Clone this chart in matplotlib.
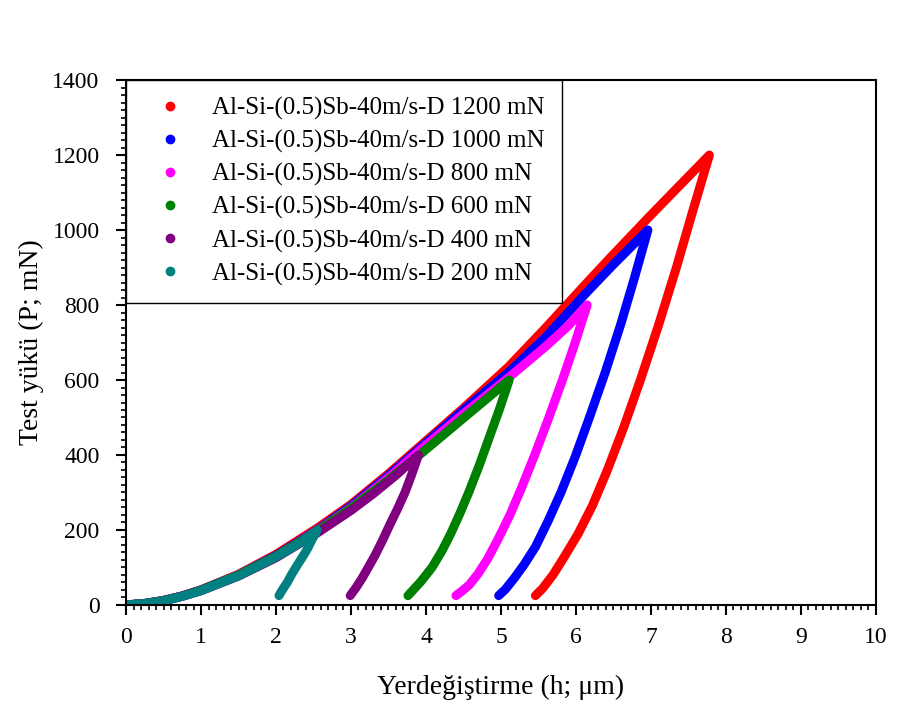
import matplotlib
matplotlib.use("Agg")
import matplotlib.pyplot as plt
from matplotlib.lines import Line2D
from matplotlib.ticker import MultipleLocator

plt.rcParams["font.family"] = ["Liberation Serif", "DejaVu Serif"]

# -----------------------------
# Data: displacement h (um), load P (mN)
# -----------------------------
labels = [
    "Al-Si-(0.5)Sb-40m/s-D 1200 mN",
    "Al-Si-(0.5)Sb-40m/s-D 1000 mN",
    "Al-Si-(0.5)Sb-40m/s-D 800 mN",
    "Al-Si-(0.5)Sb-40m/s-D 600 mN",
    "Al-Si-(0.5)Sb-40m/s-D 400 mN",
    "Al-Si-(0.5)Sb-40m/s-D 200 mN",
]
colors = ["#FF0000", "#0000FF", "#FF00FF", "#008000", "#800080", "#008080"]

# loading branches
h_load_1200 = [0, 0.25, 0.5, 0.75, 1.0, 1.5, 2.0, 2.55, 3.0, 3.5, 3.9, 4.5, 5.1, 5.6, 6.15, 6.5, 7.0, 7.4, 7.78]
p_load_1200 = [0, 4, 12, 24, 40, 82, 135, 205, 268, 350, 420, 525, 635, 740, 860, 935, 1040, 1122, 1200]
h_load_1000 = [0, 0.25, 0.5, 0.75, 1.0, 1.5, 2.0, 2.55, 3.0, 3.5, 3.9, 4.5, 5.1, 5.6, 6.15, 6.5, 6.96]
p_load_1000 = [0, 4, 12, 24, 40, 80, 132, 200, 264, 345, 415, 520, 620, 715, 835, 908, 1000]
h_load_800 = [0, 0.25, 0.5, 0.75, 1.0, 1.5, 2.0, 2.55, 3.0, 3.5, 3.9, 4.5, 5.1, 5.6, 5.9, 6.15]
p_load_800 = [0, 4, 12, 24, 40, 80, 130, 198, 260, 340, 410, 510, 606, 690, 745, 800]
h_load_600 = [0, 0.25, 0.5, 0.75, 1.0, 1.5, 2.0, 2.55, 3.0, 3.5, 3.96, 4.54, 5.11]
p_load_600 = [0, 4, 12, 24, 40, 80, 130, 197, 258, 334, 408, 505, 600]
h_load_400 = [0, 0.25, 0.5, 0.75, 1.0, 1.5, 2.0, 2.55, 3.0, 3.3, 3.6, 3.9]
p_load_400 = [0, 4, 11, 23, 38, 77, 126, 192, 252, 297, 346, 400]
h_load_200 = [0, 0.25, 0.5, 0.75, 1.0, 1.5, 2.0, 2.3, 2.55]
p_load_200 = [0, 4, 11, 23, 38, 78, 128, 163, 200]

# unloading branches
h_unl_1200 = [7.78, 7.55, 7.34, 7.10, 6.86, 6.64, 6.42, 6.22, 6.03, 5.85, 5.70, 5.56, 5.46]
p_unl_1200 = [1200, 1045, 900, 745, 600, 475, 360, 265, 190, 130, 82, 45, 25]
h_unl_1000 = [6.96, 6.78, 6.60, 6.39, 6.18, 5.99, 5.80, 5.62, 5.46, 5.31, 5.18, 5.06, 4.97]
p_unl_1000 = [1000, 872, 750, 620, 500, 395, 300, 220, 155, 108, 72, 42, 25]
h_unl_800 = [6.15, 5.99, 5.82, 5.63, 5.45, 5.28, 5.12, 4.96, 4.82, 4.69, 4.58, 4.48, 4.40]
p_unl_800 = [800, 700, 600, 495, 400, 315, 240, 175, 122, 82, 54, 37, 25]
h_unl_600 = [5.11, 4.98, 4.85, 4.71, 4.57, 4.45, 4.33, 4.21, 4.08, 3.93, 3.76]
p_unl_600 = [600, 522, 450, 372, 300, 243, 190, 143, 100, 62, 25]
h_unl_400 = [3.90, 3.81, 3.72, 3.62, 3.52, 3.42, 3.32, 3.23, 3.15, 3.07, 2.99]
p_unl_400 = [400, 348, 300, 256, 215, 172, 132, 100, 72, 47, 25]
h_unl_200 = [2.55, 2.48, 2.42, 2.35, 2.28, 2.21, 2.15, 2.09, 2.04]
p_unl_200 = [200, 174, 150, 127, 105, 82, 60, 42, 25]

curves = [
    (h_load_1200, p_load_1200, h_unl_1200, p_unl_1200),
    (h_load_1000, p_load_1000, h_unl_1000, p_unl_1000),
    (h_load_800, p_load_800, h_unl_800, p_unl_800),
    (h_load_600, p_load_600, h_unl_600, p_unl_600),
    (h_load_400, p_load_400, h_unl_400, p_unl_400),
    (h_load_200, p_load_200, h_unl_200, p_unl_200),
]

# -----------------------------
# Plot
# -----------------------------
fig = plt.figure(figsize=(9.2, 7.07), dpi=100)
ax = fig.add_axes([0.137, 0.1443, 0.815, 0.7425])

for (hl, pl, hu, pu), c in zip(curves, colors):
    ax.plot(hl + hu[1:], pl + pu[1:], color=c, lw=6.5,
            solid_capstyle="round", solid_joinstyle="round")

ax.set_xlim(0, 10)
ax.set_ylim(0, 1400)
ax.xaxis.set_major_locator(MultipleLocator(1))
ax.xaxis.set_minor_locator(MultipleLocator(0.1))
ax.yaxis.set_major_locator(MultipleLocator(200))
ax.yaxis.set_minor_locator(MultipleLocator(20))
ax.tick_params(which="both", direction="out", top=False, right=False,
               width=1.5, labelsize=17, colors="black")
ax.tick_params(which="major", length=7)
ax.tick_params(axis="x", which="major", pad=9)
ax.tick_params(axis="y", which="major", pad=12)
ax.tick_params(which="minor", length=3.5, width=1.2)
for s in ax.spines.values():
    s.set_linewidth(1.5)

ax.set_xlabel("Yerdeğiştirme (h; μm)", fontsize=20, labelpad=19)
ax.set_ylabel("Test yükü (P; mN)", fontsize=20, labelpad=6)

handles = [Line2D([], [], ls="none", marker="o", ms=6, color=c) for c in colors]
leg = ax.legend(handles, labels, loc="upper left", bbox_to_anchor=(0, 1),
                borderaxespad=0, fontsize=18, frameon=True, fancybox=False,
                edgecolor="black", framealpha=1, handlelength=2.16,
                handletextpad=0.6, borderpad=0.68, labelspacing=0.40)
leg.get_frame().set_linewidth(1.0)

fig.savefig("out.png", dpi=100)
